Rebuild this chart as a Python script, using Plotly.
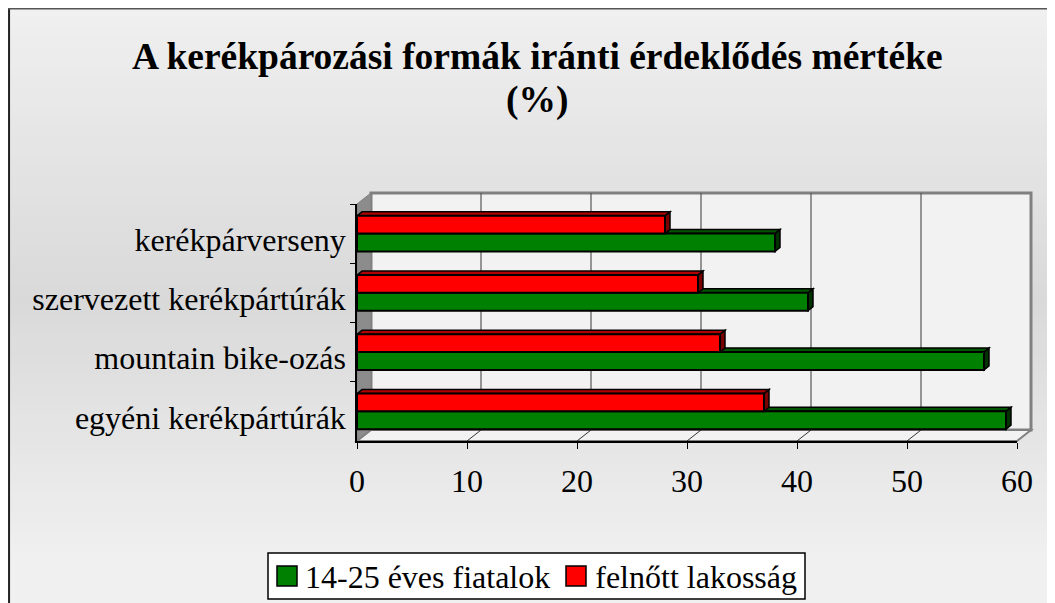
import plotly.graph_objects as go

# ---- data ----
categories = ["egyéni kerékpártúrák", "mountain bike-ozás",
              "szervezett kerékpártúrák", "kerékpárverseny"]
youth = [59, 57, 41, 38]
adult = [37, 33, 31, 28]
series_names = ["14-25 éves fiatalok", "felnőtt lakosság"]
x_ticks = [0, 10, 20, 30, 40, 50, 60]
title_line1 = "A kerékpározási formák iránti érdeklődés mértéke"
title_line2 = "(%)"

# ---- layout constants (pixels, in page coordinates) ----
OFFX, OFFY = 8, 8          # where the figure lands on the page
W, H = 1055 - OFFX, 603
FX0, FX1 = 357, 1017       # front plane x extent
FY0, FY1 = 204, 441        # front plane y extent (top, bottom)
DX, DY = 14, 11            # wall depth offset
FONT = "Liberation Serif, Times New Roman, serif"
GREEN, RED = "#008000", "#FF0000"
GREEN_TOP, GREEN_SIDE = "#005500", "#003300"
RED_TOP, RED_SIDE = "#B00000", "#7A0000"
BARGAP = 0.4


def px(x):
    return (x - OFFX) / W


def py(y):
    return 1 - (y - OFFY) / H


fig = go.Figure()
fig.add_trace(go.Bar(y=categories, x=youth, orientation="h", name=series_names[0],
                     marker=dict(color=GREEN, line=dict(color="black", width=2)),
                     showlegend=False))
fig.add_trace(go.Bar(y=categories, x=adult, orientation="h", name=series_names[1],
                     marker=dict(color=RED, line=dict(color="black", width=2)),
                     showlegend=False))
# legend entries (text only; swatches drawn as larger squares below)
for nm in series_names:
    fig.add_trace(go.Scatter(x=[None], y=[None], mode="markers", name=nm,
                             marker=dict(symbol="square", size=16, color="rgba(0,0,0,0)",
                                         line=dict(width=0))))

shapes = []
# background vertical gradient (light - darker - light)
TOPY = OFFY
stops = [(TOPY, 240), (300, 217), (560, 240), (620, 240)]
NB = 60
for k in range(NB):
    y0 = TOPY + k * (603 - TOPY) / NB
    y1 = TOPY + (k + 1) * (603 - TOPY) / NB
    ym = (y0 + y1) / 2
    g = stops[-1][1]
    for (a, ga), (b, gb) in zip(stops[:-1], stops[1:]):
        if a <= ym <= b:
            g = ga + (gb - ga) * (ym - a) / (b - a)
            break
    g = int(round(g))
    shapes.append(dict(type="rect", xref="paper", yref="paper", layer="below",
                       x0=0, x1=1, y0=py(y1) - 0.001, y1=min(py(y0) + 0.001, 1),
                       line=dict(width=0), fillcolor=f"rgb({g},{g},{g})"))
# chart frame (left & top edges)
shapes.append(dict(type="line", xref="paper", yref="paper", layer="below",
                   x0=0.001, x1=0.001, y0=0, y1=1, line=dict(color="#222222", width=2)))
shapes.append(dict(type="line", xref="paper", yref="paper", layer="below",
                   x0=0, x1=1, y0=0.999, y1=0.999, line=dict(color="#555555", width=2)))
# back wall
shapes.append(dict(type="rect", xref="paper", yref="paper", layer="below",
                   x0=px(FX0 + DX), x1=px(FX1 + DX), y0=py(FY0 - DY), y1=py(FY1 - DY),
                   line=dict(color="#808080", width=3), fillcolor="#F2F2F2"))


def ppath(pts):
    return "M " + " L ".join(f"{px(a):.5f},{py(b):.5f}" for a, b in pts) + " Z"


# left wall
shapes.append(dict(type="path", xref="paper", yref="paper", layer="below",
                   path=ppath([(FX0, FY0), (FX0 + DX, FY0 - DY), (FX0 + DX, FY1 - DY), (FX0, FY1)]),
                   line=dict(color="#808080", width=1), fillcolor="#8C8C8C"))
# floor
shapes.append(dict(type="path", xref="paper", yref="paper", layer="below",
                   path=ppath([(FX0, FY1), (FX1, FY1), (FX1 + DX, FY1 - DY), (FX0 + DX, FY1 - DY)]),
                   line=dict(color="#808080", width=2), fillcolor="#F2F2F2"))
# back-wall gridlines and floor diagonals at tick positions
for t in x_ticks[1:-1]:
    shapes.append(dict(type="line", xref="x", yref="paper", layer="below",
                       xsizemode="pixel", xanchor=t, x0=DX, x1=DX,
                       y0=py(FY0 - DY), y1=py(FY1 - DY),
                       line=dict(color="#555555", width=1.2)))
    shapes.append(dict(type="line", xref="x", yref="paper", layer="below",
                       xsizemode="pixel", xanchor=t, x0=0, x1=DX,
                       y0=py(FY1), y1=py(FY1 - DY),
                       line=dict(color="#333333", width=1)))
# legend box and swatches
shapes.append(dict(type="rect", xref="paper", yref="paper", layer="below",
                   x0=px(268), x1=px(805), y0=py(599), y1=py(553),
                   line=dict(color="black", width=1.5), fillcolor="white"))
for sx, col in zip([277, 566], [GREEN, RED]):
    shapes.append(dict(type="rect", xref="paper", yref="paper", layer="below",
                       x0=px(sx), x1=px(sx + 20), y0=py(586), y1=py(566),
                       line=dict(color="black", width=1.5), fillcolor=col))

# 3D faces of bars (depth derived from axis scale)
xscale = (FX1 - FX0) / (x_ticks[-1] - x_ticks[0])
yscale = (FY1 - FY0) / len(categories)
ddx = 5 / xscale
ddy = 4 / yscale
bw = (1 - BARGAP) / 2
for sidx, (vals, topc, sidec) in enumerate([(youth, GREEN_TOP, GREEN_SIDE), (adult, RED_TOP, RED_SIDE)]):
    for i, v in enumerate(vals):
        lo = i - bw + sidx * bw
        hi = lo + bw
        top = f"M 0,{hi} L {v},{hi} L {v + ddx},{hi + ddy} L {ddx},{hi + ddy} Z"
        side = f"M {v},{lo} L {v},{hi} L {v + ddx},{hi + ddy} L {v + ddx},{lo + ddy} Z"
        for pth, col in [(top, topc), (side, sidec)]:
            shapes.append(dict(type="path", xref="x", yref="y", layer="between",
                               path=pth, fillcolor=col,
                               line=dict(color="black", width=1.5)))

annotations = [
    dict(text=f"<b>{title_line1}</b>", x=px(537), y=py(57), xref="paper", yref="paper",
         xanchor="center", yanchor="middle", showarrow=False,
         font=dict(family=FONT, size=37.5, color="black")),
    dict(text=f"<b>{title_line2}</b>", x=px(537), y=py(100), xref="paper", yref="paper",
         xanchor="center", yanchor="middle", showarrow=False,
         font=dict(family=FONT, size=37.5, color="black")),
]

fig.update_layout(
    width=W, height=H, autosize=False,
    margin=dict(l=0, r=0, t=0, b=0),
    paper_bgcolor="white", plot_bgcolor="rgba(0,0,0,0)",
    barmode="group", bargap=BARGAP, bargroupgap=0,
    shapes=shapes, annotations=annotations,
    font=dict(family=FONT, color="black"),
    legend=dict(orientation="h", x=px(265), y=py(576), xanchor="left", yanchor="middle",
                bgcolor="rgba(0,0,0,0)", borderwidth=0,
                font=dict(family=FONT, size=32, color="black"),
                itemsizing="trace", traceorder="normal"),
    xaxis=dict(domain=[px(FX0), px(FX1)], range=[x_ticks[0], x_ticks[-1]],
               tickvals=x_ticks, ticks="outside", ticklen=6, tickcolor="black",
               ticklabelstandoff=5,
               showline=True, linecolor="black", linewidth=1.5,
               showgrid=False, zeroline=False, automargin=False,
               tickfont=dict(family=FONT, size=32, color="black")),
    yaxis=dict(domain=[py(FY1), py(FY0)], type="category",
               categoryorder="array", categoryarray=categories,
               range=[-0.5, len(categories) - 0.5], tickson="boundaries",
               ticks="outside", ticklen=5, tickcolor="black", ticklabelstandoff=3,
               ticklabelshift=6,
               showline=True, linecolor="black", linewidth=1.5,
               showgrid=False, automargin=False,
               tickfont=dict(family=FONT, size=32, color="black")),
)

fig.write_html("out.html")
